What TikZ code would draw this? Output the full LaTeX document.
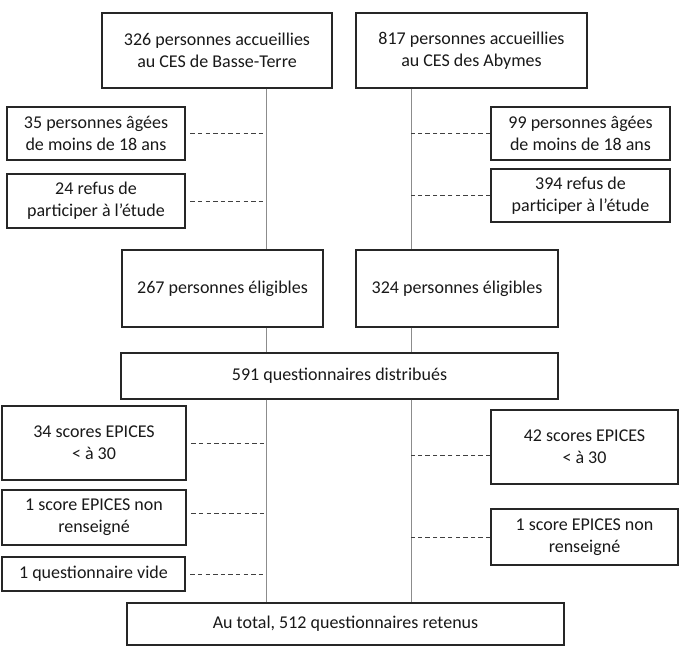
\documentclass[tikz,border=0pt]{standalone}
\usepackage{fontspec}
\setmainfont{Carlito}
\usepackage{xcolor}

\begin{document}
\begin{tikzpicture}[scale=1,
  box/.style={draw=black!85,line width=0.8pt,fill=white,align=center,inner sep=2pt,
    text=black!90,font=\fontsize{12.8}{15.8}\selectfont},
  trunk/.style={draw=black!45,line width=0.7pt},
  excl/.style={draw=black!75,line width=0.6pt,dash pattern=on 3.2pt off 2.2pt}]
\useasboundingbox (0,0) rectangle (17,16.275);
\coordinate (B1) at (5.425,15.0125);
\coordinate (B2) at (11.7875,15.0125);
\coordinate (A1) at (2.4,12.9375);
\coordinate (R1) at (2.4,11.25);
\coordinate (A2) at (14.5125,12.9375);
\coordinate (R2) at (14.5125,11.3875);
\coordinate (E1) at (5.5625,9.0625);
\coordinate (E2) at (11.425,9.0625);
\coordinate (Q) at (8.4875,6.875);
\coordinate (S1) at (2.35,5.2);
\coordinate (N1) at (2.35,3.3375);
\coordinate (V1) at (2.3375,1.925);
\coordinate (S2) at (14.6125,5.1);
\coordinate (N2) at (14.6125,2.85);
\coordinate (T) at (8.6375,0.675);
\coordinate (L) at (6.65,0);
\coordinate (R) at (10.275,0);
\node[box,minimum width=5.75cm,minimum height=1.875cm] (b1) at (B1){326 personnes accueillies\\au CES de Basse-Terre};
\node[box,minimum width=5.775cm,minimum height=1.875cm] (b2) at (B2){817 personnes accueillies\\au CES des Abymes};
\node[box,minimum width=4.45cm,minimum height=1.325cm] (a1) at (A1){35 personnes âgées\\de moins de 18 ans};
\node[box,minimum width=4.45cm,minimum height=1.35cm] (r1) at (R1){24 refus de\\participer à l’étude};
\node[box,minimum width=4.475cm,minimum height=1.325cm] (a2) at (A2){99 personnes âgées\\de moins de 18 ans};
\node[box,minimum width=4.475cm,minimum height=1.325cm] (r2) at (R2){394 refus de\\participer à l’étude};
\node[box,minimum width=5.025cm,minimum height=1.925cm] (e1) at (E1){267 personnes éligibles};
\node[box,minimum width=5.05cm,minimum height=1.925cm] (e2) at (E2){324 personnes éligibles};
\node[box,minimum width=10.925cm,minimum height=1.15cm] (q) at (Q){591 questionnaires distribués};
\node[box,minimum width=4.6cm,minimum height=1.85cm] (s1) at (S1){34 scores EPICES\\< à 30};
\node[box,minimum width=4.6cm,minimum height=1.375cm] (n1) at (N1){1 score EPICES non\\renseigné};
\node[box,minimum width=4.575cm,minimum height=0.85cm] (v1) at (V1){1 questionnaire vide};
\node[box,minimum width=4.675cm,minimum height=1.85cm] (s2) at (S2){42 scores EPICES\\< à 30};
\node[box,minimum width=4.675cm,minimum height=1.4cm] (n2) at (N2){1 score EPICES non\\renseigné};
\node[box,minimum width=10.925cm,minimum height=1.05cm] (t) at (T){Au total, 512 questionnaires retenus};
\draw[trunk] (b1.south -| L) -- (e1.north -| L);
\draw[trunk] (b2.south -| R) -- (e2.north -| R);
\draw[trunk] (e1.south -| L) -- (q.north -| L);
\draw[trunk] (e2.south -| R) -- (q.north -| R);
\draw[trunk] (q.south -| L) -- (t.north -| L);
\draw[trunk] (q.south -| R) -- (t.north -| R);
\draw[excl] ([xshift=0.12cm]a1.east) -- (a1.east -| L);
\draw[excl] ([xshift=0.12cm]r1.east) -- (r1.east -| L);
\draw[excl] (a2.west) -- (a2.west -| R);
\draw[excl] (r2.west) -- (r2.west -| R);
\draw[excl] ([xshift=0.12cm]s1.east) -- (s1.east -| L);
\draw[excl] ([xshift=0.12cm,yshift=0.1cm]n1.east) -- ([yshift=0.1cm]n1.east -| L);
\draw[excl] ([xshift=0.12cm]v1.east) -- (v1.east -| L);
\draw[excl] ([yshift=-0.2cm]s2.west) -- ([yshift=-0.2cm]s2.west -| R);
\draw[excl] (n2.west) -- (n2.west -| R);
\end{tikzpicture}
\end{document}
